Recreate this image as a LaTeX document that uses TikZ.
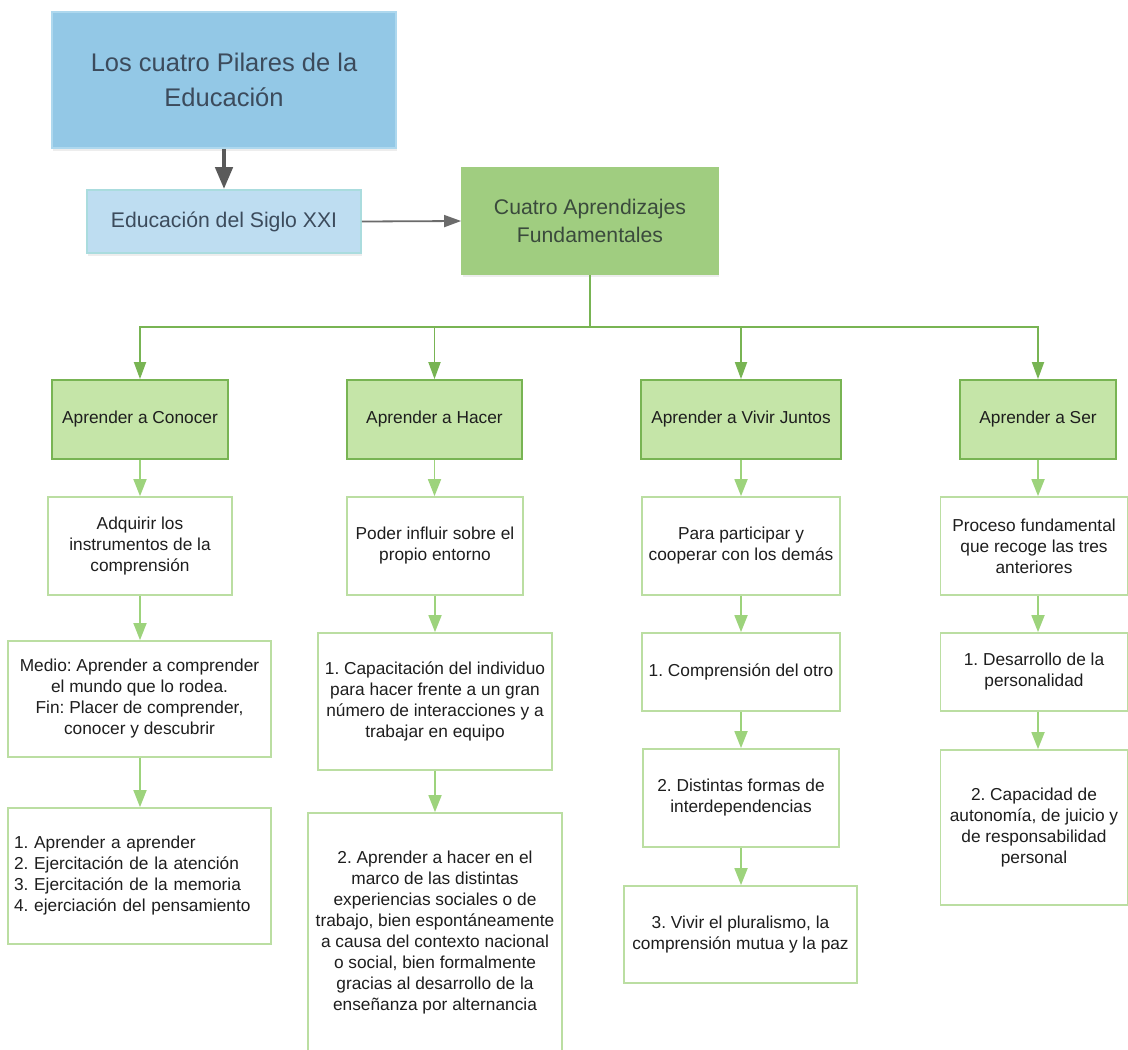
\documentclass[tikz,border=0pt]{standalone}
\usepackage{fontspec}
\setmainfont{Liberation Sans}
\usetikzlibrary{arrows.meta,shadows}
\definecolor{bluefill}{HTML}{93C8E6}
\definecolor{blueline}{HTML}{AED8EE}
\definecolor{bluefilltwo}{HTML}{BEDDF1}
\definecolor{bluelinetwo}{HTML}{AADCDE}
\definecolor{bluetxt}{HTML}{3C4B5C}
\definecolor{cuatrofill}{HTML}{A0CD80}
\definecolor{cuatrotxt}{HTML}{3A4A3C}
\definecolor{greenfill}{HTML}{C5E5A8}
\definecolor{greenline}{HTML}{78B453}
\definecolor{paleline}{HTML}{BBDEA2}
\definecolor{flowgreen}{HTML}{9DD37C}
\definecolor{grayarrow}{HTML}{5A5A5A}
\definecolor{bodytxt}{HTML}{1E1E1E}
\frenchspacing
\begin{document}
\frenchspacing
\begin{tikzpicture}[x=1pt,y=-1pt,
  base/.style={rectangle, line width=1.8pt, inner sep=4pt, align=center,
    font=\fontsize{17.3}{21}\selectfont\frenchspacing, text=bodytxt},
  softshadow/.style={drop shadow={shadow xshift=0.5pt, shadow yshift=-2.5pt, opacity=0.07, fill=black}},
  pilarbox/.style={base, draw=blueline, fill=bluefill, text=bluetxt,
    font=\fontsize{25.5}{35}\selectfont, softshadow},
  sigbox/.style={base, draw=bluelinetwo, fill=bluefilltwo, text=bluetxt,
    font=\fontsize{21.2}{28}\selectfont, softshadow},
  cuatrobox/.style={base, draw=cuatrofill, fill=cuatrofill, text=cuatrotxt,
    font=\fontsize{21.2}{28}\selectfont, softshadow},
  greenbox/.style={base, draw=greenline, fill=greenfill},
  whitebox/.style={base, draw=paleline, fill=white},
  busline/.style={draw=greenline, line width=1.8pt},
  busarrow/.style={busline, -{Triangle[length=17pt,width=12pt]}},
  flow/.style={draw=flowgreen, line width=1.8pt, -{Triangle[length=17pt,width=13pt]}},
  thickgray/.style={draw=grayarrow, line width=4.5pt, -{Triangle[length=22pt,width=17pt]}},
  thingray/.style={draw=grayarrow!90, line width=1.8pt, -{Triangle[length=17pt,width=12pt]}}
]
\useasboundingbox[fill=white] (0,0) rectangle (1128,1050);

% top part
\node[pilarbox, minimum width=344pt, minimum height=136pt] (pil) at (224,80)
  {Los cuatro Pilares de la\\Educación};
\node[sigbox, minimum width=274pt, minimum height=63pt] (sig) at (224,221.5)
  {Educación del Siglo XXI};
\node[cuatrobox, minimum width=256pt, minimum height=106pt] (cua) at (590,221)
  {Cuatro Aprendizajes\\Fundamentales};

% green row
\node[greenbox, minimum width=176pt, minimum height=79pt] (con) at (140,419.5) {Aprender a Conocer};
\node[greenbox, minimum width=175pt, minimum height=79pt] (hac) at (434.5,419.5) {Aprender a Hacer};
\node[greenbox, minimum width=200pt, minimum height=79pt] (viv) at (741,419.5) {Aprender a Vivir Juntos};
\node[greenbox, minimum width=156pt, minimum height=79pt] (ser) at (1038,419.5) {Aprender a Ser};

% second row
\node[whitebox, minimum width=184pt, minimum height=98pt] (adq) at (140,546)
  {Adquirir los\\instrumentos de la\\comprensión};
\node[whitebox, minimum width=176pt, minimum height=98pt] (pod) at (435,546)
  {Poder influir sobre el\\propio entorno};
\node[whitebox, minimum width=198pt, minimum height=98pt] (par) at (741,546)
  {Para participar y\\cooperar con los demás};
\node[whitebox, minimum width=187pt, minimum height=98pt] (pro) at (1034,546)
  {Proceso fundamental\\que recoge las tres\\anteriores};

% third row
\node[whitebox, minimum width=263pt, minimum height=116pt] (med) at (139.5,699)
  {Medio: Aprender a comprender\\el mundo que lo rodea.\\Fin: Placer de comprender,\\conocer y descubrir};
\node[whitebox, minimum width=234pt, minimum height=137pt] (cap) at (435,701.5)
  {1. Capacitación del individuo\\para hacer frente a un gran\\número de interacciones y a\\trabajar en equipo};
\node[whitebox, minimum width=198pt, minimum height=78pt] (com) at (741,672)
  {1. Comprensión del otro};
\node[whitebox, minimum width=187pt, minimum height=78pt] (des) at (1034,672)
  {1. Desarrollo de la\\personalidad};

% fourth row
\node[whitebox, text width=251pt, inner xsep=6pt, align=left, minimum height=136pt] (lst) at (139.5,876)
  {1. Aprender a aprender\\2. Ejercitación de la atención\\3. Ejercitación de la memoria\\4. ejerciación del pensamiento};
\node[whitebox, minimum width=254pt, minimum height=240pt] (apr) at (435,933)
  {2. Aprender a hacer en el\\marco de las distintas\\experiencias sociales o de\\trabajo, bien espontáneamente\\a causa del contexto nacional\\o social, bien formalmente\\gracias al desarrollo de la\\enseñanza por alternancia};
\node[whitebox, minimum width=196pt, minimum height=98pt] (dis) at (741,798)
  {2. Distintas formas de\\interdependencias};
\node[whitebox, minimum width=187pt, minimum height=155pt] (cad) at (1034,827.5)
  {2. Capacidad de\\autonomía, de juicio y\\de responsabilidad\\personal};
\node[whitebox, minimum width=233pt, minimum height=97pt] (plu) at (740.5,934.5)
  {3. Vivir el pluralismo, la\\comprensión mutua y la paz};

% top connectors
\draw[thickgray] (pil.south) -- (sig.north);
\draw[thingray] (sig.east) -- (cua.west);

% bus
\coordinate (j) at (590,327);
\coordinate (b1) at (140,327);
\coordinate (b2) at (434.5,327);
\coordinate (b3) at (741,327);
\coordinate (b4) at (1038,327);
\draw[busline] (cua.south) -- (j);
\draw[busline, line cap=rect] (b1) -- (b4);
\draw[busarrow] (b1) -- (con.north);
\draw[busarrow] (b2) -- (hac.north);
\draw[busarrow] (b3) -- (viv.north);
\draw[busarrow] (b4) -- (ser.north);

% column flows
\draw[flow] (con.south) -- (con.south |- adq.north);
\draw[flow] (adq.south) -- (adq.south |- med.north);
\draw[flow] (med.south -| adq.south) -- (adq.south |- lst.north);

\draw[flow] (hac.south) -- (hac.south |- pod.north);
\draw[flow] (pod.south) -- (pod.south |- cap.north);
\draw[flow] (cap.south) -- (cap.south |- apr.north);

\draw[flow] (viv.south) -- (viv.south |- par.north);
\draw[flow] (par.south) -- (par.south |- com.north);
\draw[flow] (com.south) -- (com.south |- dis.north);
\draw[flow] (dis.south) -- (dis.south |- plu.north);

\draw[flow] (ser.south) -- (ser.south |- pro.north);
\draw[flow] (pro.south -| ser.south) -- (ser.south |- des.north);
\draw[flow] (des.south -| ser.south) -- (ser.south |- cad.north);
\end{tikzpicture}
\end{document}
